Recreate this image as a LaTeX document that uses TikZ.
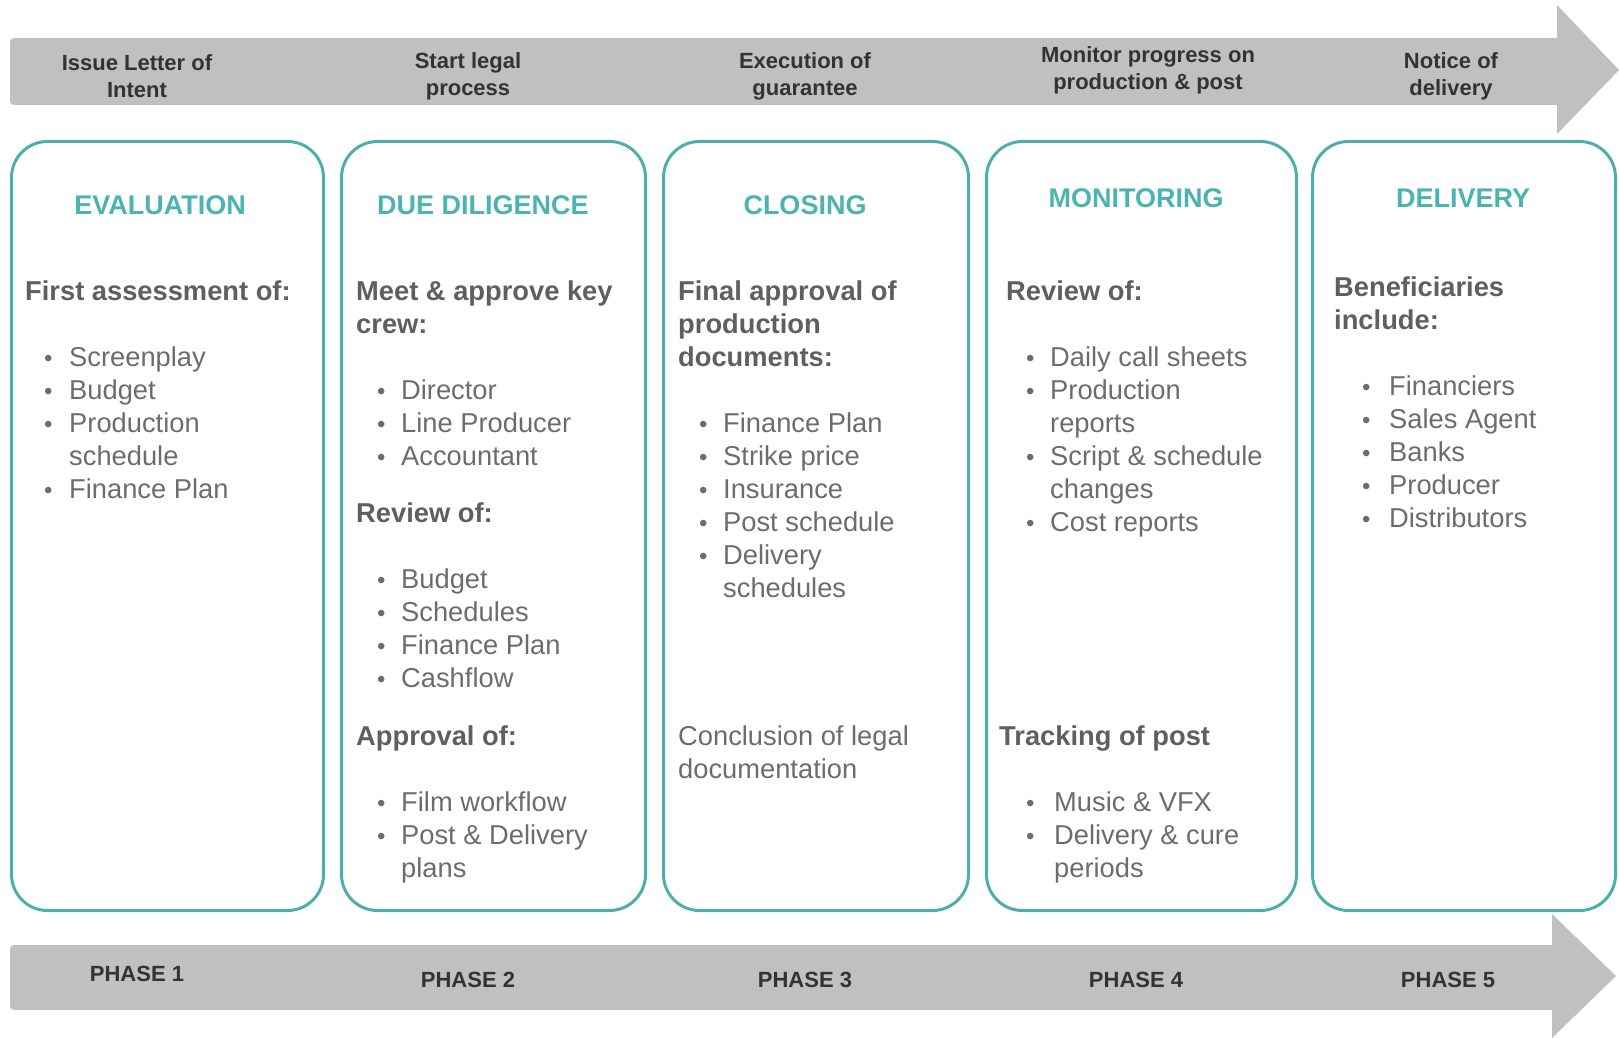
\documentclass[tikz,border=0pt]{standalone}
\usepackage{fontspec}
\setmainfont{Liberation Sans}
\definecolor{bargray}{HTML}{C0C0C0}
\definecolor{bartext}{HTML}{333333}
\definecolor{tealline}{HTML}{4DAEAB}
\definecolor{tealtext}{HTML}{4BB3B0}
\definecolor{hdrgray}{HTML}{5F5F5F}
\definecolor{bodygray}{HTML}{6C6C6C}
\newcommand{\myitem}[5]{%
  \node[bul] (#1-b) at (#2,#4) {\symbol{"2022}};
  \node[itemtxt] (#1) at (#3,#4) {#5};}
\begin{document}
\begin{tikzpicture}[x=1pt,y=-1pt,
  phasebox/.style={draw=tealline, line width=3pt, rounded corners=36pt, anchor=north west, inner sep=0pt, minimum height=769pt},
  bartxt/.style={font=\fontsize{22}{27}\selectfont\bfseries, text=bartext, align=center, inner sep=0pt},
  titletxt/.style={font=\fontsize{27}{30}\selectfont\bfseries, text=tealtext, anchor=base, inner sep=0pt},
  hdr/.style={font=\fontsize{27.3}{33}\selectfont\bfseries, text=hdrgray, anchor=base west, inner sep=0pt},
  itemtxt/.style={font=\fontsize{27.3}{33}\selectfont, text=bodygray, anchor=base west, inner sep=0pt},
  bul/.style={font=\fontsize{24}{24}\selectfont, text=bodygray, anchor=base west, inner sep=0pt}]
\useasboundingbox (0,0) rectangle (1619,1038);
% top arrow
\fill[bargray, rounded corners=4pt] (10,38) rectangle (1562,105);
\fill[bargray] (1557,5) -- (1619,70) -- (1557,134) -- cycle;
% bottom arrow
\fill[bargray, rounded corners=4pt] (10,945) rectangle (1557,1010);
\fill[bargray] (1552,914) -- (1616,976) -- (1552,1038) -- cycle;
% top labels
\node[bartxt] (t1) at (137,76) {Issue Letter of\\Intent};
\node[bartxt] (t2) at (468,76) {Start legal\\process};
\node[bartxt] (t3) at (805,76) {Execution of\\guarantee};
\node[bartxt] (t4) at (1148,70) {Monitor progress on\\production \& post};
\node[bartxt] (t5) at (1451,76) {Notice of\\delivery};
% phase labels
\node[bartxt] (p1) at (137,974) {PHASE 1};
\node[bartxt] (p2) at (468,980) {PHASE 2};
\node[bartxt] (p3) at (805,980) {PHASE 3};
\node[bartxt] (p4) at (1136,980) {PHASE 4};
\node[bartxt] (p5) at (1448,980) {PHASE 5};
% boxes
\node[phasebox, minimum width=312pt] (b1) at (10,140) {};
\node[phasebox, minimum width=304pt] (b2) at (340,140) {};
\node[phasebox, minimum width=305pt] (b3) at (662,140) {};
\node[phasebox, minimum width=310pt] (b4) at (985,140) {};
\node[phasebox, minimum width=303pt] (b5) at (1311,140) {};
% titles
\node[titletxt] (h1) at (160,214) {EVALUATION};
\node[titletxt] (h2) at (483,214) {DUE DILIGENCE};
\node[titletxt] (h3) at (805,214) {CLOSING};
\node[titletxt] (h4) at (1136,207) {MONITORING};
\node[titletxt] (h5) at (1463,207) {DELIVERY};
% box 1
\node[hdr] (e0) at (25,300) {First assessment of:};
\myitem{e1}{44}{69}{366}{Screenplay}
\myitem{e2}{44}{69}{399}{Budget}
\myitem{e3}{44}{69}{432}{Production}
\node[itemtxt] (e3c) at (69,465) {schedule};
\myitem{e4}{44}{69}{498}{Finance Plan}
% box 2
\node[hdr] (d0) at (356,300) {Meet \& approve key};
\node[hdr] (d0c) at (356,333) {crew:};
\myitem{d1}{377}{401}{399}{Director}
\myitem{d2}{377}{401}{432}{Line Producer}
\myitem{d3}{377}{401}{465}{Accountant}
\node[hdr] (dr) at (356,522) {Review of:};
\myitem{d4}{377}{401}{588}{Budget}
\myitem{d5}{377}{401}{621}{Schedules}
\myitem{d6}{377}{401}{654}{Finance Plan}
\myitem{d7}{377}{401}{687}{Cashflow}
\node[hdr] (da) at (356,745) {Approval of:};
\myitem{d8}{377}{401}{811}{Film workflow}
\myitem{d9}{377}{401}{844}{Post \& Delivery}
\node[itemtxt] (d9c) at (401,877) {plans};
% box 3
\node[hdr] (c0) at (678,300) {Final approval of};
\node[hdr] (c0b) at (678,333) {production};
\node[hdr] (c0c) at (678,366) {documents:};
\myitem{c1}{699}{723}{432}{Finance Plan}
\myitem{c2}{699}{723}{465}{Strike price}
\myitem{c3}{699}{723}{498}{Insurance}
\myitem{c4}{699}{723}{531}{Post schedule}
\myitem{c5}{699}{723}{564}{Delivery}
\node[itemtxt] (c5c) at (723,597) {schedules};
\node[itemtxt] (cl1) at (678,745) {Conclusion of legal};
\node[itemtxt] (cl2) at (678,778) {documentation};
% box 4
\node[hdr] (m0) at (1006,300) {Review of:};
\myitem{m1}{1026}{1050}{366}{Daily call sheets}
\myitem{m2}{1026}{1050}{399}{Production}
\node[itemtxt] (m2c) at (1050,432) {reports};
\myitem{m3}{1026}{1050}{465}{Script \& schedule}
\node[itemtxt] (m3c) at (1050,498) {changes};
\myitem{m4}{1026}{1050}{531}{Cost reports}
\node[hdr] (mt) at (999,745) {Tracking of post};
\myitem{m5}{1026}{1054}{811}{Music \& VFX}
\myitem{m6}{1026}{1054}{844}{Delivery \& cure}
\node[itemtxt] (m6c) at (1054,877) {periods};
% box 5
\node[hdr] (v0) at (1334,296) {Beneficiaries};
\node[hdr] (v0c) at (1334,329) {include:};
\myitem{v1}{1362}{1389}{395}{Financiers}
\myitem{v2}{1362}{1389}{428}{Sales Agent}
\myitem{v3}{1362}{1389}{461}{Banks}
\myitem{v4}{1362}{1389}{494}{Producer}
\myitem{v5}{1362}{1389}{527}{Distributors}
\end{tikzpicture}
\end{document}
